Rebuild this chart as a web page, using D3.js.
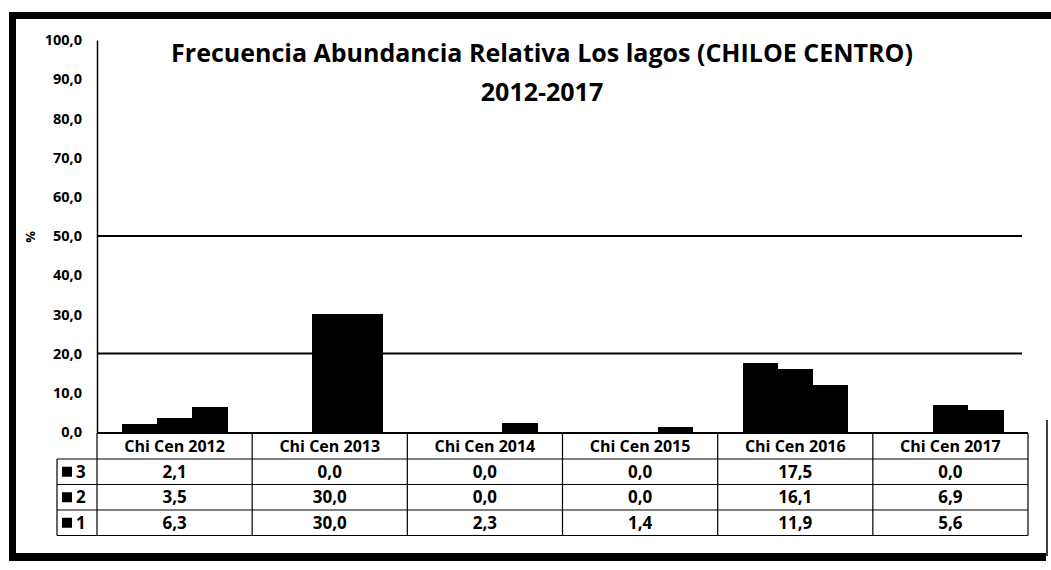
<!DOCTYPE html>
<html>
<head>
<meta charset="utf-8">
<script src="https://cdn.jsdelivr.net/npm/d3@7"></script>
<style>
  body { margin: 0; background: #fff; }
  svg { display: block; font-family: "Open Sans", "Noto Sans", sans-serif; }
</style>
</head>
<body>
<div id="chart"></div>
<script>
// Data
const categories = ["Chi Cen 2012", "Chi Cen 2013", "Chi Cen 2014", "Chi Cen 2015", "Chi Cen 2016", "Chi Cen 2017"];
const seriesNames = ["3", "2", "1"];
const values3 = [2.1, 0.0, 0.0, 0.0, 17.5, 0.0];
const values2 = [3.5, 30.0, 0.0, 0.0, 16.1, 6.9];
const values1 = [6.3, 30.0, 2.3, 1.4, 11.9, 5.6];
const yTicks = [0, 10, 20, 30, 40, 50, 60, 70, 80, 90, 100];
const gridValues = [20, 50];
const titleLines = ["Frecuencia Abundancia Relativa Los lagos (CHILOE CENTRO)", "2012-2017"];

const seriesValues = { "3": values3, "2": values2, "1": values1 };

// Comma decimal, as in the original spreadsheet
const locale = d3.formatLocale({ decimal: ",", thousands: ".", grouping: [3], currency: ["", ""] });
const fmt = locale.format(".1f");

const width = 1051, height = 570;
const svg = d3.select("#chart").append("svg").attr("width", width).attr("height", height);

// Scales
const x = d3.scaleBand().domain(categories).range([97, 1028]).padding(0);
const xInner = d3.scaleBand().domain(seriesNames).range([0, x.bandwidth()]).paddingInner(0).paddingOuter(0.71);
const y = d3.scaleLinear().domain([0, 100]).range([432, 40]);

// Outer frame (thick scanned border)
const frame = svg.append("g").attr("fill", "#000");
frame.append("rect").attr("x", 9).attr("y", 12).attr("width", 7).attr("height", 549);
frame.append("rect").attr("x", 9).attr("y", 12).attr("width", 1042).attr("height", 7);
frame.append("rect").attr("x", 9).attr("y", 553).attr("width", 1037).attr("height", 8);
svg.append("line").attr("x1", 1047).attr("x2", 1047).attr("y1", 420).attr("y2", 556)
  .attr("stroke", "#000").attr("stroke-width", 1.5);

// Title
svg.append("g").selectAll("text")
  .data(titleLines)
  .join("text")
  .attr("x", 542)
  .attr("y", (d, i) => 62 + i * 39)
  .attr("text-anchor", "middle")
  .attr("font-size", 25)
  .attr("font-weight", "bold")
  .attr("fill", "#000")
  .text(d => d);

// Gridlines
svg.append("g").selectAll("line")
  .data(gridValues)
  .join("line")
  .attr("x1", 97).attr("x2", 1022)
  .attr("y1", d => y(d)).attr("y2", d => y(d))
  .attr("stroke", "#000").attr("stroke-width", 2);

// Y axis
const yAxis = svg.append("g")
  .attr("transform", "translate(97,0)")
  .call(d3.axisLeft(y).tickValues(yTicks).tickSize(0).tickPadding(15).tickFormat(fmt));
yAxis.select(".domain").attr("stroke", "#000").attr("stroke-width", 1.5);
yAxis.selectAll("text")
  .attr("font-family", "Open Sans, sans-serif")
  .attr("font-size", 14.5)
  .attr("font-weight", "bold")
  .attr("fill", "#000");

// Y axis title
svg.append("text")
  .attr("transform", "translate(35,237) rotate(-90)")
  .attr("text-anchor", "middle")
  .attr("font-size", 13)
  .attr("font-weight", "bold")
  .text("%");

// Bars
const groups = svg.append("g").selectAll("g")
  .data(categories)
  .join("g")
  .attr("transform", d => `translate(${x(d)},0)`);

groups.selectAll("rect")
  .data((d, i) => seriesNames.map(s => ({ s, v: seriesValues[s][i] })))
  .join("rect")
  .attr("x", d => xInner(d.s))
  .attr("width", xInner.bandwidth() + 0.5)
  .attr("y", d => y(d.v))
  .attr("height", d => y(0) - y(d.v))
  .attr("fill", "#000")
  .attr("shape-rendering", "crispEdges");

// Data table
const tableTop = 433;
const headerH = 26;
const rowH = 25.5;
const table = svg.append("g").attr("font-weight", "bold").attr("fill", "#000");

// horizontal lines
const rowLines = [tableTop, tableTop + headerH, tableTop + headerH + rowH, tableTop + headerH + 2 * rowH, tableTop + headerH + 3 * rowH];
table.selectAll("line.h")
  .data(rowLines)
  .join("line")
  .attr("class", "h")
  .attr("x1", (d, i) => i === 0 ? 97 : 57)
  .attr("x2", 1028)
  .attr("y1", d => d).attr("y2", d => d)
  .attr("stroke", "#000")
  .attr("stroke-width", (d, i) => i === 0 ? 2 : 1.2);

// vertical lines
const colEdges = categories.map(c => x(c)).concat([x.range()[1]]);
table.selectAll("line.v")
  .data(colEdges)
  .join("line")
  .attr("class", "v")
  .attr("x1", d => d).attr("x2", d => d)
  .attr("y1", tableTop).attr("y2", rowLines[4])
  .attr("stroke", "#000").attr("stroke-width", 1.2);
table.append("line")
  .attr("x1", 57).attr("x2", 57)
  .attr("y1", rowLines[1]).attr("y2", rowLines[4])
  .attr("stroke", "#000").attr("stroke-width", 1.2);

// header labels
table.selectAll("text.head")
  .data(categories)
  .join("text")
  .attr("class", "head")
  .attr("x", d => x(d) + x.bandwidth() / 2)
  .attr("y", tableTop + headerH / 2)
  .attr("dy", "0.36em")
  .attr("text-anchor", "middle")
  .attr("font-size", 16)
  .text(d => d);

// rows
const rows = table.selectAll("g.row")
  .data(seriesNames)
  .join("g")
  .attr("class", "row")
  .attr("transform", (d, i) => `translate(0,${tableTop + headerH + i * rowH})`);

rows.append("rect")
  .attr("x", 62).attr("y", rowH / 2 - 5)
  .attr("width", 10).attr("height", 10)
  .attr("fill", "#000");
rows.append("text")
  .attr("x", 76).attr("y", rowH / 2)
  .attr("dy", "0.36em")
  .attr("font-size", 17)
  .text(d => d);

rows.selectAll("text.val")
  .data(s => seriesValues[s].map((v, i) => ({ v, c: categories[i] })))
  .join("text")
  .attr("class", "val")
  .attr("x", d => x(d.c) + x.bandwidth() / 2)
  .attr("y", rowH / 2)
  .attr("dy", "0.36em")
  .attr("text-anchor", "middle")
  .attr("font-size", 17)
  .text(d => fmt(d.v));
</script>
</body>
</html>
